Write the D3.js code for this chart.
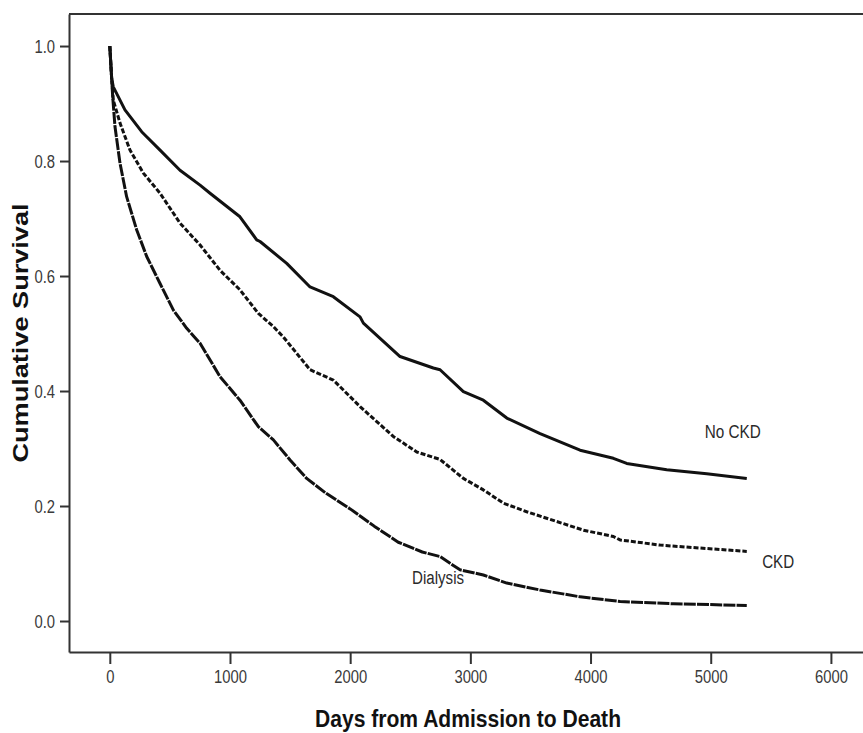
<!DOCTYPE html>
<html>
<head>
<meta charset="utf-8">
<script src="https://cdn.jsdelivr.net/npm/d3@7"></script>
<style>
  body { margin: 0; background: #fff; }
  .tick text { font-family: "Liberation Sans", Arial, sans-serif; font-size: 19px; fill: #3a3a3a; }
  .lbl { font-family: "Liberation Sans", Arial, sans-serif; font-size: 18px; fill: #2a2a2a; }
</style>
</head>
<body>
<div id="chart"></div>
<script>
// survival curves (days, cumulative survival)
var noCkdDays = [0, 15, 29, 126, 265, 418, 584, 751, 834, 1083, 1222, 1250, 1472, 1666, 1860, 2082, 2110, 2415, 2692, 2748, 2942, 3108, 3303, 3580, 3913, 4190, 4301, 4634, 4967, 5300];
var noCkdSurv = [1.0, 0.945, 0.929, 0.889, 0.851, 0.819, 0.784, 0.758, 0.744, 0.703, 0.663, 0.660, 0.622, 0.581, 0.564, 0.529, 0.518, 0.460, 0.440, 0.437, 0.399, 0.384, 0.353, 0.326, 0.297, 0.283, 0.274, 0.263, 0.256, 0.248];

var ckdDays = [0, 15, 29, 85, 168, 279, 418, 584, 751, 917, 1083, 1236, 1361, 1444, 1666, 1860, 2082, 2359, 2554, 2748, 2942, 3108, 3275, 3469, 3719, 3941, 4190, 4246, 4579, 4967, 5300];
var ckdSurv = [1.0, 0.945, 0.906, 0.866, 0.819, 0.779, 0.744, 0.692, 0.654, 0.610, 0.576, 0.535, 0.512, 0.494, 0.437, 0.419, 0.373, 0.321, 0.294, 0.281, 0.248, 0.228, 0.205, 0.190, 0.173, 0.158, 0.147, 0.141, 0.132, 0.126, 0.121];

var dialDays = [0, 15, 24, 43, 85, 140, 224, 307, 418, 528, 640, 751, 917, 1083, 1236, 1361, 1500, 1638, 1800, 2000, 2200, 2400, 2600, 2748, 2914, 3108, 3303, 3580, 3913, 4246, 4690, 5300];
var dialSurv = [1.0, 0.945, 0.912, 0.860, 0.796, 0.738, 0.680, 0.634, 0.587, 0.541, 0.509, 0.483, 0.425, 0.384, 0.338, 0.315, 0.280, 0.248, 0.222, 0.195, 0.165, 0.137, 0.120, 0.112, 0.089, 0.080, 0.066, 0.054, 0.042, 0.034, 0.030, 0.027];

var xTicks = [0, 1000, 2000, 3000, 4000, 5000, 6000];
var yTicks = [0.0, 0.2, 0.4, 0.6, 0.8, 1.0];

var width = 863, height = 733;
var plotLeft = 69, plotRight = 863, plotTop = 14, plotBottom = 652;
var squeeze = 0.78; // narrow look of the tick labels

var svg = d3.select('#chart').append('svg')
  .attr('width', width)
  .attr('height', height)
  .style('background', '#fff');

var x = d3.scaleLinear().domain([-339.5, 6267]).range([plotLeft, plotRight]);
var y = d3.scaleLinear().domain([-0.0539, 1.0557]).range([plotBottom, plotTop]);

// frame top line (right side runs off the picture)
svg.append('line')
  .attr('x1', plotLeft).attr('x2', plotRight + 10)
  .attr('y1', plotTop).attr('y2', plotTop)
  .style('stroke', '#333').style('stroke-width', 2);

var xAxis = svg.append('g')
  .attr('transform', 'translate(0,' + plotBottom + ')')
  .call(d3.axisBottom(x).tickValues(xTicks).tickSize(12).tickSizeOuter(0).tickPadding(6).tickFormat(d3.format('d')));
xAxis.selectAll('.tick text').attr('transform', 'scale(' + squeeze + ',1)');

var yAxis = svg.append('g')
  .attr('transform', 'translate(' + plotLeft + ',0)')
  .call(d3.axisLeft(y).tickValues(yTicks).tickSize(9).tickSizeOuter(0).tickPadding(5).tickFormat(d3.format('.1f')));
yAxis.selectAll('.tick text')
  .attr('x', -14 / squeeze)
  .attr('transform', 'scale(' + squeeze + ',1)');

svg.selectAll('.domain').style('stroke', '#333').style('stroke-width', 2);
svg.selectAll('.tick line').style('stroke', '#333').style('stroke-width', 2);

// curves
var series = [
  { days: noCkdDays, surv: noCkdSurv, dash: null },
  { days: ckdDays, surv: ckdSurv, dash: '5,2' },
  { days: dialDays, surv: dialSurv, dash: '12,1.2' }
];

var line = d3.line()
  .x(function(d){ return x(d[0]); })
  .y(function(d){ return y(d[1]); });

svg.selectAll('.km-line')
  .data(series).enter()
  .append('path').attr('class', 'km-line')
  .attr('d', function(s){ return line(d3.zip(s.days, s.surv)); })
  .style('fill', 'none')
  .style('stroke', '#111')
  .style('stroke-width', 3)
  .style('stroke-linejoin', 'round')
  .style('stroke-dasharray', function(s){ return s.dash; });

// curve labels
svg.append('text').attr('class', 'lbl').attr('x', x(4950)).attr('y', y(0.329)).attr('dy', '0.35em')
  .attr('textLength', 56).attr('lengthAdjust', 'spacingAndGlyphs').text('No CKD');
svg.append('text').attr('class', 'lbl').attr('x', x(5428)).attr('y', y(0.1026)).attr('dy', '0.35em')
  .attr('textLength', 32).attr('lengthAdjust', 'spacingAndGlyphs').text('CKD');
svg.append('text').attr('class', 'lbl').attr('x', x(2515)).attr('y', y(0.0748)).attr('dy', '0.35em')
  .attr('textLength', 52).attr('lengthAdjust', 'spacingAndGlyphs').text('Dialysis');

// axis titles
svg.append('text')
  .attr('transform', 'translate(28,' + ((plotTop + plotBottom) / 2) + ') rotate(-90)')
  .attr('text-anchor', 'middle')
  .attr('textLength', 259).attr('lengthAdjust', 'spacingAndGlyphs')
  .style('font-family', '"Liberation Sans", Arial, sans-serif')
  .style('font-weight', 'bold').style('font-size', '22px').style('fill', '#111')
  .text('Cumulative Survival');

svg.append('text')
  .attr('x', 315).attr('y', 727)
  .attr('textLength', 306).attr('lengthAdjust', 'spacingAndGlyphs')
  .style('font-family', '"Liberation Sans", Arial, sans-serif')
  .style('font-weight', 'bold').style('font-size', '23px').style('fill', '#111')
  .text('Days from Admission to Death');
</script>
</body>
</html>
